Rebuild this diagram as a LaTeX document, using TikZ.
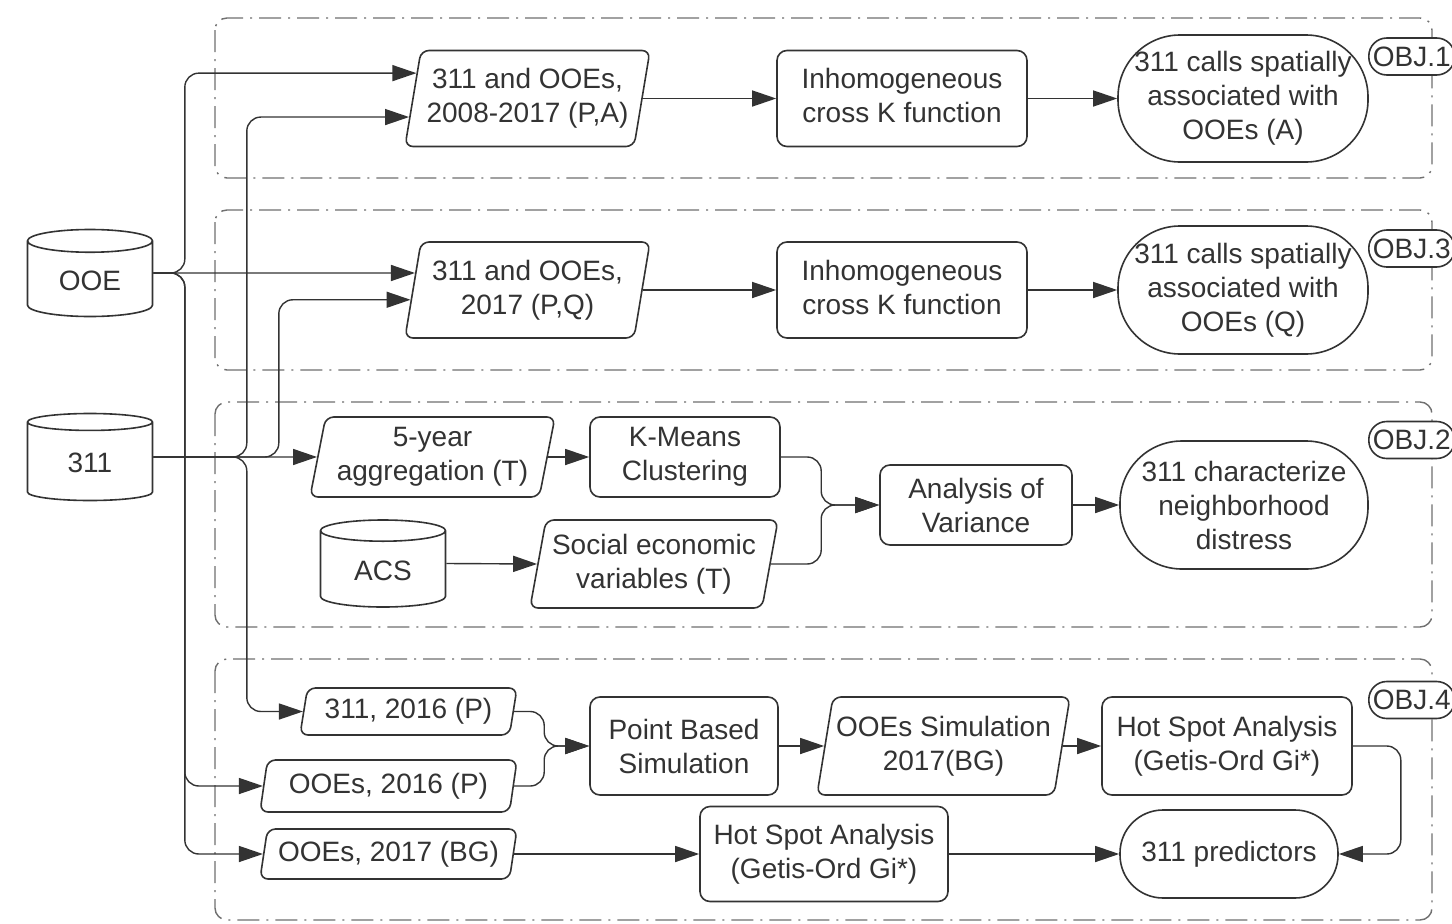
\documentclass[tikz,border=0pt]{standalone}
\usepackage{fontspec}
\setmainfont{Liberation Sans}
\usetikzlibrary{shapes.geometric,arrows.meta,calc}
\definecolor{ink}{HTML}{333333}
\definecolor{frame}{HTML}{707070}
\begin{document}
\begin{tikzpicture}[x=1pt,y=-1pt,
  font=\fontsize{28}{34}\selectfont,
  box/.style={draw=ink, line width=1.6pt, rounded corners=10pt, align=center, text=ink, inner sep=2pt},
  para/.style={trapezium, trapezium left angle=76, trapezium right angle=104, trapezium stretches body,
    draw=ink, line width=1.6pt, rounded corners=8pt, align=center, text=ink, inner sep=2pt},
  term/.style={draw=ink, line width=1.6pt, align=center, text=ink, inner sep=2pt},
  db/.style={cylinder, shape border rotate=90, aspect=0.33, draw=ink, line width=1.6pt, text=ink,
    minimum width=125pt, minimum height=87pt, anchor=shape center},
  obj/.style={draw=ink, line width=1.6pt, rounded corners=18pt, fill=white, text=ink,
    minimum height=37pt, inner xsep=4pt, inner ysep=0pt, anchor=west},
  grp/.style={draw=frame, line width=1.4pt, dash pattern=on 22pt off 7pt on 2pt off 7pt, rounded corners=12pt},
  arr/.style={draw=ink, line width=1.4pt, -{Triangle[length=24pt,width=16pt]}, rounded corners=14pt},
]
\clip (0,0) rectangle (1452,924);
\fill[white] (0,0) rectangle (1452,924);

% group frames
\draw[grp] (215,18) rectangle (1432,178);
\draw[grp] (215,210) rectangle (1432,370);
\draw[grp] (215,402) rectangle (1432,627);
\draw[grp] (215,659) rectangle (1432,920);
\node[obj] (o1) at (1368,56.5) {OBJ.1};
\node[obj] (o3) at (1368,248.5) {OBJ.3};
\node[obj] (o2) at (1368,440) {OBJ.2};
\node[obj] (o4) at (1368,700) {OBJ.4};

% data sources
\node[db] (ooe) at (90,273) {OOE};
\node[db] (c311) at (90,457) {311};
\node[db] (acs) at (383,563.5) {ACS};

% row 1
\node[para, minimum width=245pt, minimum height=96pt] (p1) at (527.5,98.5) {311 and OOEs,\\2008-2017 (P,A)};
\node[box, minimum width=250pt, minimum height=96pt] (inh1) at (902,98.5) {Inhomogeneous\\cross K function\vphantom{(}};
\node[term, rounded corners=62pt, minimum width=250pt, minimum height=127pt] (t1) at (1243,98.5) {311 calls spatially\\associated with\\OOEs (A)};

% row 2
\node[para, minimum width=245pt, minimum height=96pt] (p2) at (527.5,290) {311 and OOEs,\\2017 (P,Q)};
\node[box, minimum width=250pt, minimum height=96pt] (inh2) at (902,290) {Inhomogeneous\\cross K function\vphantom{(}};
\node[term, rounded corners=62pt, minimum width=250pt, minimum height=128pt] (t2) at (1243,290) {311 calls spatially\\associated with\\OOEs (Q)};

% row 3
\node[para, minimum width=245pt, minimum height=80pt] (yr5) at (432.5,457) {5-year\\aggregation (T)};
\node[box, minimum width=190pt, minimum height=80pt] (km) at (685,457) {K-Means\\Clustering};
\node[para, minimum width=248pt, minimum height=88pt] (soc) at (654,564) {Social economic\\variables (T)};
\node[box, minimum width=192pt, minimum height=80pt] (aov) at (976,505) {Analysis of\\Variance};
\node[term, rounded corners=62pt, minimum width=248pt, minimum height=128pt] (t3) at (1244,505) {311 characterize\\neighborhood\\distress};

% row 4
\node[para, minimum width=217pt, minimum height=47pt] (p311) at (408.5,711.5) {311, 2016 (P)};
\node[para, minimum width=257pt, minimum height=52pt] (pooe16) at (388.5,786) {OOEs, 2016 (P)};
\node[box, minimum width=188pt, minimum height=98pt] (pbs) at (684,746) {Point Based\\Simulation};
\node[para, minimum width=253pt, minimum height=98pt] (oosim) at (943.5,746) {OOEs Simulation\\2017(BG)};
\node[box, minimum width=250pt, minimum height=98pt] (hs1) at (1227,746) {Hot Spot Analysis\\(Getis-Ord Gi*)};
\node[para, minimum width=257pt, minimum height=50pt] (pooe17) at (388.5,854) {OOEs, 2017 (BG)};
\node[box, minimum width=248pt, minimum height=95pt] (hs2) at (824,854) {Hot Spot Analysis\\(Getis-Ord Gi*)};
\node[term, rounded corners=43pt, minimum width=218pt, minimum height=88pt] (t4) at (1229,854) {311 predictors};

% helper coordinates
\coordinate (ooeO) at (ooe.east |- ooe.shape center);
\coordinate (c311O) at (c311.east |- c311.shape center);
\coordinate (acsO) at (acs.east |- acs.shape center);
\coordinate (p1a) at ($(p1.bottom left corner)!0.76!(p1.top left corner)$);
\coordinate (p1b) at ($(p1.bottom left corner)!0.31!(p1.top left corner)$);
\coordinate (h2) at (p2.center |- ooeO);
\coordinate (p2a) at (intersection of p2.bottom left corner--p2.top left corner and ooeO--h2);
\coordinate (p2b) at ($(p2.bottom left corner)!0.40!(p2.top left corner)$);
\coordinate (h5) at (yr5.center |- c311O);
\coordinate (y5a) at (intersection of yr5.bottom left corner--yr5.top left corner and c311O--h5);
\coordinate (ooeJ) at ($(ooeO)+(31.5,0)$);
\coordinate (j311a) at ($(c311O)+(93.5,0)$);
\coordinate (j311b) at ($(c311O)+(125.5,0)$);
\coordinate (mA) at ($(aov.west)+(-58,0)$);
\coordinate (mB) at ($(pbs.west)+(-45,0)$);
\coordinate (rt) at ($(hs1.east)+(48,0)$);

% OOE connectors
\draw[arr] (ooeO) -- (ooeJ) |- (p1a);
\draw[arr] (ooeO) -- (p2a);
\draw[arr] (ooeO) -- (ooeJ) |- (pooe16.left side);
\draw[arr] (ooeO) -- (ooeJ) |- (pooe17.left side);

% 311 connectors
\draw[arr] (c311O) -- (y5a);
\draw[arr] (c311O) -- (j311a) |- (p1b);
\draw[arr] (c311O) -- (j311b) |- (p2b);
\draw[arr] (c311O) -- (j311a) |- (p311.left side);

% row flows
\draw[arr] (p1.right side) -- (inh1.west);
\draw[arr] (inh1.east) -- (t1.west);
\draw[arr] (p2.right side) -- (inh2.west);
\draw[arr] (inh2.east) -- (t2.west);
\draw[arr] (yr5.right side) -- (km.west);
\draw[arr] (acsO) -- (soc.left side);
\draw[arr] (km.east) -| (mA) -- (aov.west);
\draw[arr] (soc.right side) -| (mA) -- (aov.west);
\draw[arr] (aov.east) -- (t3.west);
\draw[arr] (p311.right side) -| (mB) -- (pbs.west);
\draw[arr] (pooe16.right side) -| (mB) -- (pbs.west);
\draw[arr] (pbs.east) -- (oosim.left side);
\draw[arr] (oosim.right side) -- (hs1.west);
\draw[arr] (hs1.east) -- (rt) |- (t4.east);
\draw[arr] (pooe17.right side) -- (hs2.west);
\draw[arr] (hs2.east) -- (t4.west);
\end{tikzpicture}
\end{document}
